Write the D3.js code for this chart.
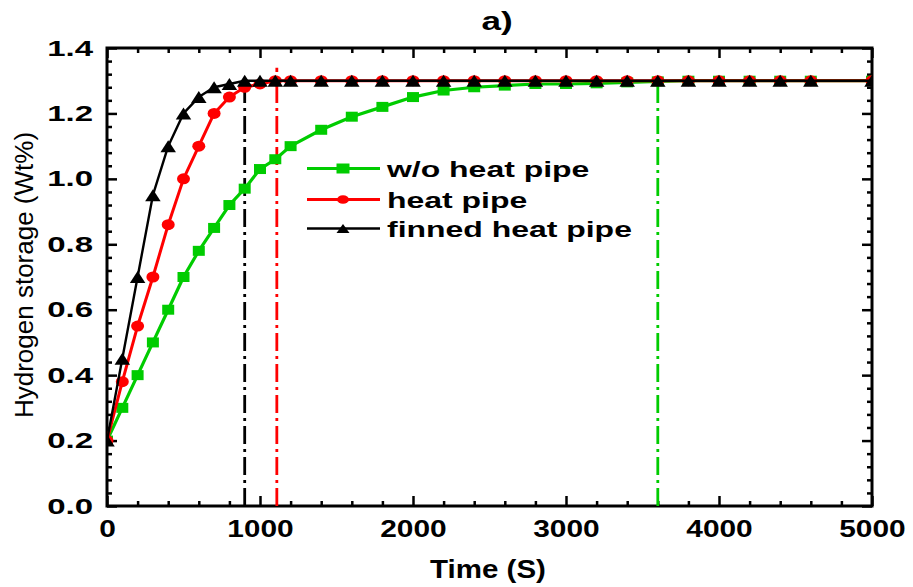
<!DOCTYPE html>
<html>
<head>
<meta charset="utf-8">
<script src="https://cdn.jsdelivr.net/npm/d3@7"></script>
<style>
  html, body { margin: 0; padding: 0; background: #fff; }
  svg { display: block; font-family: "Liberation Sans", Arial, sans-serif; }
</style>
</head>
<body>
<script>
// Sampling times (s)
const times = [0, 100, 200, 300, 400, 500, 600, 700, 800, 900, 1000, 1100, 1200,
  1400, 1600, 1800, 2000, 2200, 2400, 2600, 2800, 3000, 3200, 3400, 3600,
  3800, 4000, 4200, 4400, 4600, 5000];

// Hydrogen storage (Wt%) for each configuration
const woHeatPipe = [0.20, 0.30, 0.40, 0.50, 0.60, 0.70, 0.78, 0.85, 0.92, 0.97, 1.03, 1.06, 1.10,
  1.15, 1.19, 1.22, 1.25, 1.27, 1.28, 1.285, 1.29, 1.29, 1.292, 1.295, 1.298,
  1.30, 1.30, 1.30, 1.30, 1.30, 1.30];
const heatPipe = [0.20, 0.38, 0.55, 0.70, 0.86, 1.00, 1.10, 1.20, 1.25, 1.28, 1.29, 1.30, 1.30,
  1.30, 1.30, 1.30, 1.30, 1.30, 1.30, 1.30, 1.30, 1.30, 1.30, 1.30, 1.30,
  1.30, 1.30, 1.30, 1.30, 1.30, 1.30];
const finnedHeatPipe = [0.20, 0.45, 0.70, 0.95, 1.10, 1.20, 1.25, 1.28, 1.29, 1.30, 1.30, 1.30, 1.30,
  1.30, 1.30, 1.30, 1.30, 1.30, 1.30, 1.30, 1.30, 1.30, 1.30, 1.30, 1.30,
  1.30, 1.30, 1.30, 1.30, 1.30, 1.30];

const seriesNames = ["w/o heat pipe", "heat pipe", "finned heat pipe"];
const seriesColors = ["#00cc00", "#ff0000", "#000000"];

// Saturation times marked with dash-dot guides (finned, heat pipe, w/o)
const guideTimes = [900, 1110, 3600];
const guideTops = [1.30, 1.34, 1.30];
const guideColors = ["#000000", "#ff0000", "#00cc00"];

// Axis ticks
const xMajorTicks = [0, 1000, 2000, 3000, 4000, 5000];
const xMinorTicks = d3.range(0, 5001, 200).filter(v => v % 1000 !== 0);
const yMajorTicks = [0, 0.2, 0.4, 0.6, 0.8, 1.0, 1.2, 1.4];
const yMinorTicks = d3.range(0, 36).map(i => i * 0.04).filter(v => Math.abs(v / 0.2 - Math.round(v / 0.2)) > 1e-6);

const W = 913, H = 587;
const plotLeft = 107, plotRight = 872, plotTop = 48, plotBottom = 506;

const svg = d3.select("body").append("svg").attr("width", W).attr("height", H);

const x = d3.scaleLinear().domain([0, 5000]).range([plotLeft, plotRight]);
const y = d3.scaleLinear().domain([0, 1.4]).range([plotBottom, plotTop]);

svg.append("clipPath").attr("id", "plot-clip")
  .append("rect").attr("x", plotLeft).attr("y", plotTop)
  .attr("width", plotRight - plotLeft).attr("height", plotBottom - plotTop);

// Axes: inward ticks on all four sides
function styleAxis(g) {
  g.select(".domain").remove();
  g.selectAll(".tick line").attr("stroke", "#000").attr("stroke-width", 2.5);
}
const fmt = d3.format(".1f");

const gBottom = svg.append("g").attr("transform", `translate(0,${plotBottom})`)
  .call(d3.axisBottom(x).tickValues(xMajorTicks).tickSize(-10).tickPadding(15).tickFormat(d3.format("d")))
  .call(styleAxis);
gBottom.selectAll(".tick text")
  .attr("font-size", 23).attr("font-weight", "bold").attr("fill", "#000")
  .attr("font-family", "Liberation Sans, Arial, sans-serif")
  .attr("transform", "scale(1.3,1)");
svg.append("g").attr("transform", `translate(0,${plotBottom})`)
  .call(d3.axisBottom(x).tickValues(xMinorTicks).tickSize(-5).tickFormat(""))
  .call(styleAxis);

svg.append("g").attr("transform", `translate(0,${plotTop})`)
  .call(d3.axisTop(x).tickValues(xMajorTicks).tickSize(-10).tickFormat(""))
  .call(styleAxis);
svg.append("g").attr("transform", `translate(0,${plotTop})`)
  .call(d3.axisTop(x).tickValues(xMinorTicks).tickSize(-5).tickFormat(""))
  .call(styleAxis);

const ySx = 1.5;
const gLeft = svg.append("g").attr("transform", `translate(${plotLeft},0)`)
  .call(d3.axisLeft(y).tickValues(yMajorTicks).tickSize(-10).tickPadding(14 / ySx).tickFormat(fmt))
  .call(styleAxis);
gLeft.selectAll(".tick text")
  .attr("font-size", 22).attr("font-weight", "bold").attr("fill", "#000")
  .attr("font-family", "Liberation Sans, Arial, sans-serif")
  .attr("transform", `scale(${ySx},1)`);
svg.append("g").attr("transform", `translate(${plotLeft},0)`)
  .call(d3.axisLeft(y).tickValues(yMinorTicks).tickSize(-5).tickFormat(""))
  .call(styleAxis);

svg.append("g").attr("transform", `translate(${plotRight},0)`)
  .call(d3.axisRight(y).tickValues(yMajorTicks).tickSize(-10).tickFormat(""))
  .call(styleAxis);
svg.append("g").attr("transform", `translate(${plotRight},0)`)
  .call(d3.axisRight(y).tickValues(yMinorTicks).tickSize(-5).tickFormat(""))
  .call(styleAxis);

// Frame
svg.append("rect").attr("x", plotLeft).attr("y", plotTop)
  .attr("width", plotRight - plotLeft).attr("height", plotBottom - plotTop)
  .attr("fill", "none").attr("stroke", "#000").attr("stroke-width", 3);

// Dash-dot guides at the saturation times
const plot = svg.append("g").attr("clip-path", "url(#plot-clip)");
guideTimes.forEach((t, i) => {
  plot.append("line")
    .attr("x1", x(t)).attr("x2", x(t))
    .attr("y1", y(0)).attr("y2", y(guideTops[i]))
    .attr("stroke", guideColors[i]).attr("stroke-width", 2.8)
    .attr("stroke-dasharray", "18,5,3,5");
});

// Marker shapes
const markerPath = [
  (w, h) => `M${-w / 2},${-h / 2}h${w}v${h}h${-w}Z`,
  (w, h) => `M${-w / 2},0a${w / 2},${h / 2} 0 1,0 ${w},0a${w / 2},${h / 2} 0 1,0 ${-w},0Z`,
  (w, h) => `M0,${-h / 2}L${w / 2},${h / 2}L${-w / 2},${h / 2}Z`
];
const markerSize = [[12, 10], [13, 11], [15.5, 12]];
const legendMarkerSize = [[13, 10], [12, 8.5], [13, 9]];
const lineWidths = [3.2, 3, 2.4];

const seriesValues = [woHeatPipe, heatPipe, finnedHeatPipe];
const line = d3.line().x(d => x(d[0])).y(d => y(d[1]));

seriesValues.forEach((vals, i) => {
  const pts = times.map((t, j) => [t, vals[j]]);
  const g = plot.append("g");
  g.append("path").datum(pts).attr("d", line)
    .attr("fill", "none").attr("stroke", seriesColors[i]).attr("stroke-width", lineWidths[i])
    .attr("stroke-linejoin", "round");
  g.selectAll("path.marker").data(pts).join("path").attr("class", "marker")
    .attr("transform", d => `translate(${x(d[0])},${y(d[1])})`)
    .attr("d", markerPath[i](markerSize[i][0], markerSize[i][1]))
    .attr("fill", seriesColors[i]);
});

// Legend
const legendRows = [168.5, 199.5, 228.5];
seriesNames.forEach((name, i) => {
  const g = svg.append("g").attr("transform", `translate(0,${legendRows[i]})`);
  g.append("line").attr("x1", 307).attr("x2", 380).attr("y1", 0).attr("y2", 0)
    .attr("stroke", seriesColors[i]).attr("stroke-width", lineWidths[i]);
  g.append("path").attr("transform", "translate(343,0)")
    .attr("d", markerPath[i](legendMarkerSize[i][0], legendMarkerSize[i][1]))
    .attr("fill", seriesColors[i]);
  g.append("text").attr("transform", "translate(387,8) scale(1.42,1)")
    .attr("font-size", 22.5).attr("font-weight", "bold").attr("fill", "#000")
    .text(name);
});

// Titles
svg.append("text").attr("transform", "translate(497,30) scale(1.35,1)")
  .attr("text-anchor", "middle").attr("font-size", 26).attr("font-weight", "bold")
  .text("a)");

svg.append("text").attr("transform", "translate(488,578) scale(1.18,1)")
  .attr("text-anchor", "middle").attr("font-size", 25).attr("font-weight", "bold")
  .text("Time (S)");

svg.append("text").attr("transform", "translate(33,275) rotate(-90)")
  .attr("text-anchor", "middle").attr("font-size", 26)
  .text("Hydrogen storage (Wt%)");
</script>
</body>
</html>
